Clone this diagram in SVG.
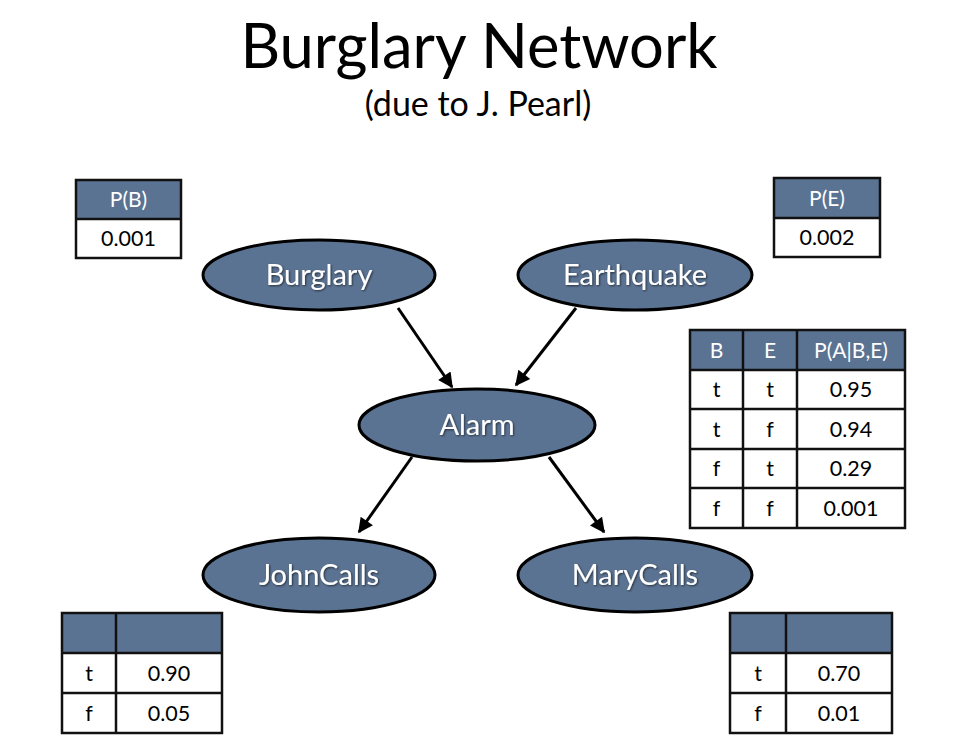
<svg xmlns="http://www.w3.org/2000/svg" width="971" height="751" viewBox="0 0 971 751">
<defs>
<style>
.node{fill:#5b7392;stroke:#000;stroke-width:3}
.nl{font-family:Lato,"Open Sans",sans-serif;font-size:29px;fill:#fff;text-anchor:middle;filter:url(#sh)}
.hd{fill:#5b7392}
.cell{fill:#fff}
.grid{fill:none;stroke:#111;stroke-width:2.5}
.ht{font-family:Lato,"Open Sans",sans-serif;font-size:21px;fill:#fff;text-anchor:middle}
.ct{font-family:Lato,"Open Sans",sans-serif;font-size:21.5px;fill:#000;text-anchor:middle}
.edge{stroke:#000;stroke-width:3;fill:none;marker-end:url(#ah)}
</style>
<marker id="ah" viewBox="0 0 10 10" refX="9" refY="5" markerWidth="5.5" markerHeight="5" orient="auto" markerUnits="strokeWidth">
<path d="M0,0 L10,5 L0,10 z" fill="#000"/>
</marker>
<filter id="sh" x="-10%" y="-20%" width="120%" height="140%">
<feDropShadow dx="1" dy="1" stdDeviation="0.8" flood-color="#000" flood-opacity="0.6"/>
</filter>
</defs>
<rect width="971" height="751" fill="#fff"/>
<text x="479" y="68" font-family="Lato,'Open Sans',sans-serif" font-size="61.5" text-anchor="middle" fill="#000">Burglary Network</text>
<text x="478" y="116" font-family="Lato,'Open Sans',sans-serif" font-size="34" text-anchor="middle" fill="#000">(due to J. Pearl)</text>

<g id="connectors">
<line class="edge" x1="398" y1="308" x2="452" y2="387"/>
<line class="edge" x1="576" y1="308" x2="516" y2="385"/>
<line class="edge" x1="412" y1="457" x2="359" y2="532"/>
<line class="edge" x1="549" y1="457" x2="604" y2="532"/>
</g>

<g id="Burglary">
<ellipse class="node" cx="319" cy="275" rx="116" ry="35"/>
<text class="nl" x="319" y="285">Burglary</text>
</g>
<g id="Earthquake">
<ellipse class="node" cx="635" cy="275" rx="117" ry="35"/>
<text class="nl" x="635" y="285">Earthquake</text>
</g>
<g id="Alarm">
<ellipse class="node" cx="477" cy="425" rx="118" ry="36"/>
<text class="nl" x="477" y="435">Alarm</text>
</g>
<g id="JohnCalls">
<ellipse class="node" cx="319" cy="575" rx="116" ry="37"/>
<text class="nl" x="319" y="585">JohnCalls</text>
</g>
<g id="MaryCalls">
<ellipse class="node" cx="635" cy="575" rx="117" ry="37"/>
<text class="nl" x="635" y="585">MaryCalls</text>
</g>

<g id="CPT-B">
<rect class="hd" x="76" y="180" width="105" height="39"/>
<rect class="cell" x="76" y="219" width="105" height="39"/>
<rect class="grid" x="76" y="180" width="105" height="78"/>
<line class="grid" x1="76" y1="219" x2="181" y2="219"/>
<text class="ht" x="128.5" y="207">P(B)</text>
<text class="ct" x="128.5" y="246">0.001</text>
</g>

<g id="CPT-E">
<rect class="hd" x="774" y="178" width="106" height="40"/>
<rect class="cell" x="774" y="218" width="106" height="39"/>
<rect class="grid" x="774" y="178" width="106" height="79"/>
<line class="grid" x1="774" y1="218" x2="880" y2="218"/>
<text class="ht" x="827" y="206">P(E)</text>
<text class="ct" x="827" y="245">0.002</text>
</g>

<g id="CPT-A">
<rect class="hd" x="690" y="330" width="215" height="40"/>
<rect class="cell" x="690" y="370" width="215" height="158"/>
<rect class="grid" x="690" y="330" width="215" height="198"/>
<line class="grid" x1="743" y1="330" x2="743" y2="528"/>
<line class="grid" x1="797" y1="330" x2="797" y2="528"/>
<line class="grid" x1="690" y1="370" x2="905" y2="370"/>
<line class="grid" x1="690" y1="409" x2="905" y2="409"/>
<line class="grid" x1="690" y1="449" x2="905" y2="449"/>
<line class="grid" x1="690" y1="488" x2="905" y2="488"/>
<text class="ht" x="716.5" y="358">B</text>
<text class="ht" x="770" y="358">E</text>
<text class="ht" x="851" y="358">P(A|B,E)</text>
<text class="ct" x="716.5" y="397">t</text><text class="ct" x="770" y="397">t</text><text class="ct" x="851" y="397">0.95</text>
<text class="ct" x="716.5" y="437">t</text><text class="ct" x="770" y="437">f</text><text class="ct" x="851" y="437">0.94</text>
<text class="ct" x="716.5" y="476">f</text><text class="ct" x="770" y="476">t</text><text class="ct" x="851" y="476">0.29</text>
<text class="ct" x="716.5" y="516">f</text><text class="ct" x="770" y="516">f</text><text class="ct" x="851" y="516">0.001</text>
</g>

<g id="CPT-J">
<rect class="hd" x="62" y="613" width="160" height="40"/>
<rect class="cell" x="62" y="653" width="160" height="80"/>
<rect class="grid" x="62" y="613" width="160" height="120"/>
<line class="grid" x1="116" y1="613" x2="116" y2="733"/>
<line class="grid" x1="62" y1="653" x2="222" y2="653"/>
<line class="grid" x1="62" y1="693" x2="222" y2="693"/>
<text class="ct" x="89" y="681">t</text><text class="ct" x="169" y="681">0.90</text>
<text class="ct" x="89" y="721">f</text><text class="ct" x="169" y="721">0.05</text>
</g>

<g id="CPT-M">
<rect class="hd" x="730" y="613" width="162" height="40"/>
<rect class="cell" x="730" y="653" width="162" height="80"/>
<rect class="grid" x="730" y="613" width="162" height="120"/>
<line class="grid" x1="786" y1="613" x2="786" y2="733"/>
<line class="grid" x1="730" y1="653" x2="892" y2="653"/>
<line class="grid" x1="730" y1="693" x2="892" y2="693"/>
<text class="ct" x="758" y="681">t</text><text class="ct" x="839" y="681">0.70</text>
<text class="ct" x="758" y="721">f</text><text class="ct" x="839" y="721">0.01</text>
</g>
</svg>
